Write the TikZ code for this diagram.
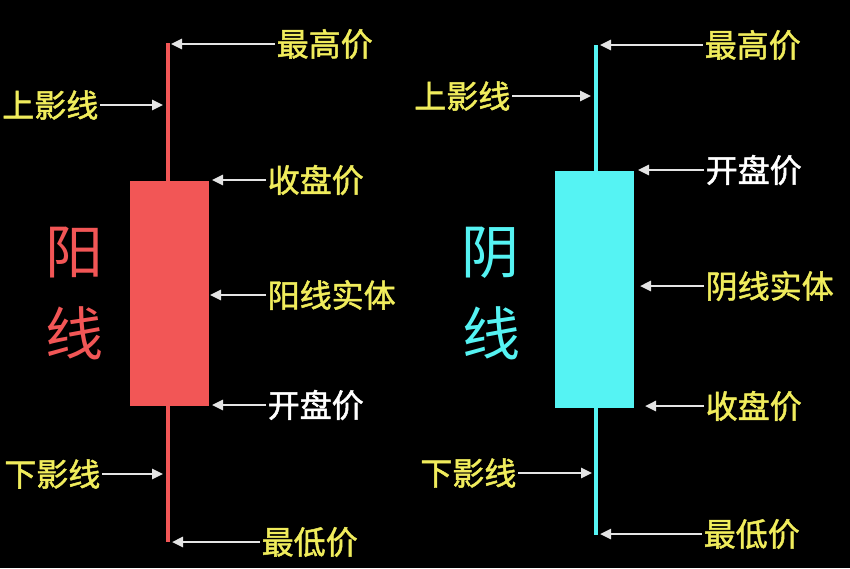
\documentclass[tikz,border=0pt]{standalone}
\usepackage{fontspec}
\newfontfamily\cjk{Noto Sans CJK SC}
\newfontfamily\cjkb[FakeBold=1.5]{Noto Sans CJK SC}
\usetikzlibrary{arrows.meta}
\definecolor{lab}{HTML}{F0EC5C}
\definecolor{upred}{HTML}{F25656}
\definecolor{downcy}{HTML}{55F3F3}
\definecolor{arr}{HTML}{E4E4E4}
\begin{document}
\begin{tikzpicture}[x=1pt,y=-1pt,
  lbl/.style={font=\cjkb\fontsize{32}{32}\selectfont, text=lab, inner sep=1.5pt},
  wlbl/.style={lbl, text=white},
  big/.style={font=\cjk\fontsize{58}{58}\selectfont, inner sep=0pt},
  ptr/.style={draw=arr, line width=2.5pt, -{Triangle[length=11pt,width=10pt]}},
  candle/.style={draw=none, inner sep=0pt, minimum width=79pt},
  wick/.style={line width=4pt}]
\fill[black] (0,0) rectangle (850,568);
\useasboundingbox (0,0) rectangle (850,568);

% ---------- left: bullish candle ----------
\coordinate (wLt) at (168,43);
\coordinate (wLb) at (168,542);
\draw[wick, upred] (wLt) -- (wLb);
\node[candle, fill=upred, minimum height=225pt] (bodyL) at (169.5,293.5) {};

\node[big, text=upred] (yangL) at (74,252) {阳};
\node[big, text=upred] (xianL) at (74,333) {线};

\node[lbl, anchor=west] (hiL) at (275,44) {最高价};
\node[lbl, anchor=east] (upL) at (100,105) {上影线};
\node[lbl, anchor=west] (clL) at (266,180) {收盘价};
\node[lbl, anchor=west] (bdL) at (266,295) {阳线实体};
\node[wlbl, anchor=west] (opL) at (266,405) {开盘价};
\node[lbl, anchor=east] (dnL) at (102,474) {下影线};
\node[lbl, anchor=west] (loL) at (260,542) {最低价};

\coordinate (hiLp) at (171,44);
\coordinate (upLp) at (163,105);
\coordinate (clLp) at (212,180);
\coordinate (bdLp) at (210,295);
\coordinate (opLp) at (212,405);
\coordinate (dnLp) at (163,474);
\coordinate (loLp) at (172,542);

\draw[ptr] (hiL.west) -- (hiLp);
\draw[ptr] (upL.east) -- (upLp);
\draw[ptr] (clL.west) -- (clLp);
\draw[ptr] (bdL.west) -- (bdLp);
\draw[ptr] (opL.west) -- (opLp);
\draw[ptr] (dnL.east) -- (dnLp);
\draw[ptr] (loL.west) -- (loLp);

% ---------- right: bearish candle ----------
\coordinate (wRt) at (596,45);
\coordinate (wRb) at (596,535);
\draw[wick, downcy] (wRt) -- (wRb);
\node[candle, fill=downcy, minimum height=237pt] (bodyR) at (594.5,289.5) {};

\node[big, text=downcy] (yinR) at (490,253) {阴};
\node[big, text=downcy] (xianR) at (491,333) {线};

\node[lbl, anchor=west] (hiR) at (703,45) {最高价};
\node[lbl, anchor=east] (upR) at (512,96) {上影线};
\node[wlbl, anchor=west] (opR) at (704,170) {开盘价};
\node[lbl, anchor=west] (bdR) at (704,286) {阴线实体};
\node[lbl, anchor=west] (clR) at (704,406) {收盘价};
\node[lbl, anchor=east] (dnR) at (518,473) {下影线};
\node[lbl, anchor=west] (loR) at (702,534) {最低价};

\coordinate (hiRp) at (600,45);
\coordinate (upRp) at (591,96);
\coordinate (opRp) at (638,170);
\coordinate (bdRp) at (640,286);
\coordinate (clRp) at (645,406);
\coordinate (dnRp) at (592,473);
\coordinate (loRp) at (600,534);

\draw[ptr] (hiR.west) -- (hiRp);
\draw[ptr] (upR.east) -- (upRp);
\draw[ptr] (opR.west) -- (opRp);
\draw[ptr] (bdR.west) -- (bdRp);
\draw[ptr] (clR.west) -- (clRp);
\draw[ptr] (dnR.east) -- (dnRp);
\draw[ptr] (loR.west) -- (loRp);
\end{tikzpicture}
\end{document}
